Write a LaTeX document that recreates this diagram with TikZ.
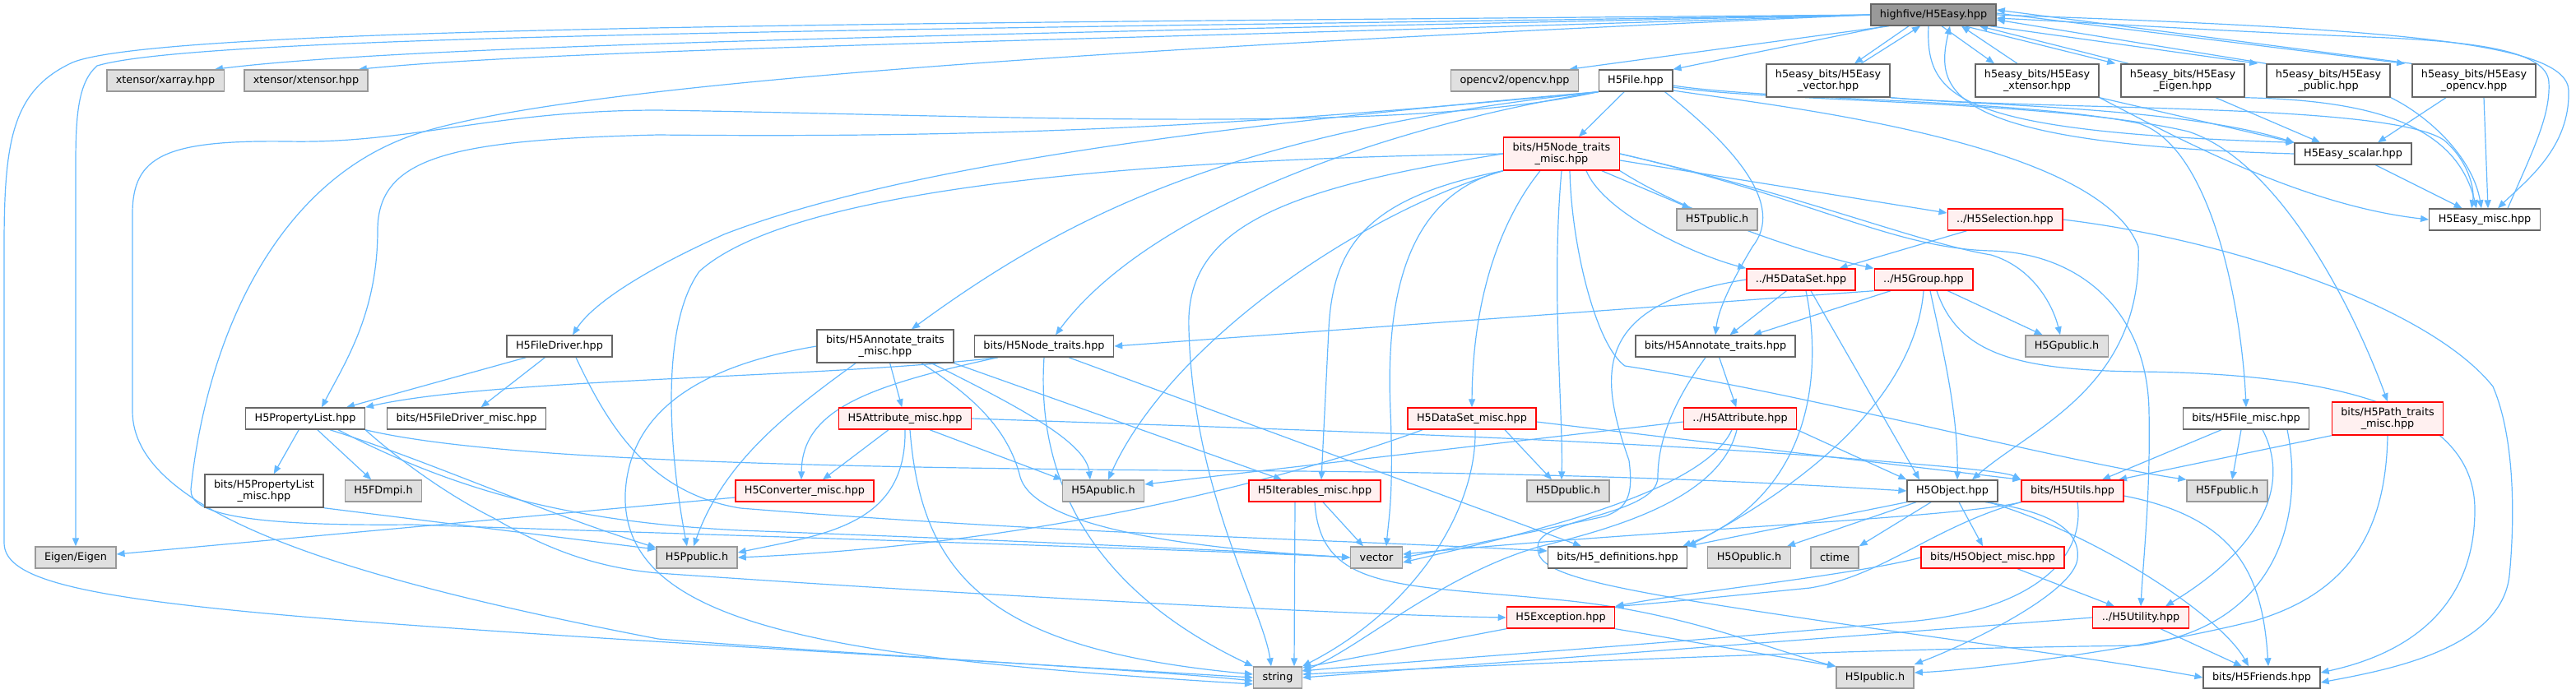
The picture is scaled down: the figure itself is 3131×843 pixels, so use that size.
\documentclass[tikz,border=0pt]{standalone}
\usepackage{fontspec}
\setmainfont{DejaVu Sans}
\usepackage{xcolor}
\usepackage{tikz}
\usetikzlibrary{arrows.meta, backgrounds}

\definecolor{edgeblue}{HTML}{63B8FF}
\definecolor{rootgray}{HTML}{999999}
\definecolor{sysgray}{HTML}{E0E0E0}
\definecolor{misspink}{HTML}{FFF0F0}

\begin{document}
\begin{tikzpicture}[
      x=0.5pt, y=-0.5pt,
      font=\fontsize{6.4}{7.2}\selectfont,
      hfile/.style={draw=black!60, fill=white, line width=0.7pt,
                    inner xsep=5.5pt, inner ysep=0pt, minimum height=13pt,
                    align=center},
      twoline/.style={minimum height=20pt},
      root/.style={hfile, fill=rootgray},
      sys/.style={hfile, draw=black!40, fill=sysgray},
      miss/.style={hfile, draw=red, fill=misspink},
      arr/.style={-{Triangle[length=5pt, width=4pt]}, edgeblue, line width=0.6pt},
  ]
  \useasboundingbox (0,0) rectangle (3131,843);

  %% the header and its direct includes
  \node[root] (easy) at (2350,18) {highfive/H5Easy.hpp};
  \node[sys]  (xarray)  at (201,98)  {xtensor/xarray.hpp};
  \node[sys]  (xtensor) at (372,98)  {xtensor/xtensor.hpp};
  \node[sys]  (opencv)  at (1841,98) {opencv2/opencv.hpp};
  \node[hfile] (h5file) at (1988,98) {H5File.hpp};
  \node[hfile, twoline] (vecE) at (2222,98) {h5easy\_bits/H5Easy\\\_vector.hpp};
  \node[hfile, twoline] (xtE)  at (2476,98) {h5easy\_bits/H5Easy\\\_xtensor.hpp};
  \node[hfile, twoline] (eigE) at (2653,98) {h5easy\_bits/H5Easy\\\_Eigen.hpp};
  \node[hfile, twoline] (pubE) at (2830,98) {h5easy\_bits/H5Easy\\\_public.hpp};
  \node[hfile, twoline] (cvE)  at (3007,98) {h5easy\_bits/H5Easy\\\_opencv.hpp};

  %% second and third rank
  \node[miss, twoline] (nodemisc) at (1898,187) {bits/H5Node\_traits\\\_misc.hpp};
  \node[hfile] (scalar)    at (2860,187) {H5Easy\_scalar.hpp};
  \node[sys]   (tpub)      at (2087,267) {H5Tpublic.h};
  \node[miss]  (selection) at (2437,267) {../H5Selection.hpp};
  \node[hfile] (easymisc)  at (3020,267) {H5Easy\_misc.hpp};
  \node[miss]  (dataset)   at (2189,340) {../H5DataSet.hpp};
  \node[miss]  (group)     at (2338,340) {../H5Group.hpp};

  %% traits rank
  \node[hfile] (filedriver) at (680,421) {H5FileDriver.hpp};
  \node[hfile, twoline] (annmisc) at (1076,421) {bits/H5Annotate\_traits\\\_misc.hpp};
  \node[hfile] (nodetraits) at (1269,421) {bits/H5Node\_traits.hpp};
  \node[hfile] (anntraits)  at (2085,421) {bits/H5Annotate\_traits.hpp};
  \node[sys]   (gpub)       at (2512,421) {H5Gpublic.h};

  \node[hfile] (proplist)  at (371,509)  {H5PropertyList.hpp};
  \node[hfile] (fdmisc)    at (567,509)  {bits/H5FileDriver\_misc.hpp};
  \node[miss]  (attrmisc)  at (1100,509) {H5Attribute\_misc.hpp};
  \node[miss]  (dsmisc)    at (1789,509) {H5DataSet\_misc.hpp};
  \node[miss]  (attribute) at (2115,509) {../H5Attribute.hpp};
  \node[hfile] (filemisc)  at (2730,509) {bits/H5File\_misc.hpp};
  \node[miss, twoline] (pathmisc) at (2902,509) {bits/H5Path\_traits\\\_misc.hpp};

  \node[hfile, twoline] (plmisc) at (321,597) {bits/H5PropertyList\\\_misc.hpp};
  \node[sys]   (fdmpi)    at (466,597)  {H5FDmpi.h};
  \node[miss]  (convmisc) at (978,597)  {H5Converter\_misc.hpp};
  \node[sys]   (apub)     at (1341,597) {H5Apublic.h};
  \node[miss]  (itermisc) at (1598,597) {H5Iterables\_misc.hpp};
  \node[sys]   (dpub)     at (1906,597) {H5Dpublic.h};
  \node[hfile] (object)   at (2373,597) {H5Object.hpp};
  \node[miss]  (utils)    at (2519,597) {bits/H5Utils.hpp};
  \node[sys]   (fpub)     at (2707,597) {H5Fpublic.h};

  \node[sys]   (eigen)   at (92,678)   {Eigen/Eigen};
  \node[sys]   (ppub)    at (847,678)  {H5Ppublic.h};
  \node[sys]   (vector)  at (1673,678) {vector};
  \node[hfile] (defs)    at (1966,678) {bits/H5\_definitions.hpp};
  \node[sys]   (opub)    at (2126,678) {H5Opublic.h};
  \node[sys]   (ctime)   at (2230,678) {ctime};
  \node[miss]  (objmisc) at (2422,678) {bits/H5Object\_misc.hpp};

  \node[miss]  (exception) at (1897,751) {H5Exception.hpp};
  \node[miss]  (utility)   at (2602,751) {../H5Utility.hpp};

  \node[sys]   (string)  at (1553,824) {string};
  \node[sys]   (ipub)    at (2279,824) {H5Ipublic.h};
  \node[hfile] (friends) at (2749,824) {bits/H5Friends.hpp};

  \begin{scope}[on background layer]
  %% H5Easy.hpp
  \draw[arr] (easy.west) .. controls (1200,28) and (200,30) .. (88,76)
             .. controls (15,110) and (5,170) .. (5,300) -- (5,660)
             .. controls (5,740) and (300,750) .. (string.west);
  \draw[arr] (easy.west) .. controls (1200,36) and (250,40) .. (118,80)
             .. controls (95,100) and (92,140) .. (92,200) -- (eigen.north);
  \draw[arr] (easy.west) .. controls (1300,40) and (520,52) .. ([xshift=-6pt]xarray.north east);
  \draw[arr] (easy.west) .. controls (1400,48) and (700,58) .. ([xshift=-6pt]xtensor.north east);
  \draw[arr] (easy.west) .. controls (1500,52) and (700,95) .. (500,165)
             .. controls (330,225) and (250,420) .. (232,595)
             .. controls (230,625) and (300,640) .. (500,638)
             .. controls (1000,655) and (1500,670) .. (vector.west);
  \draw[arr] ([xshift=-27pt]easy.south) -- ([xshift=-6pt]opencv.north east);
  \draw[arr] ([xshift=-29pt]easy.south) -- (h5file.north east);
  \draw[arr] ([xshift=-15pt]easy.south) -- ([xshift=16pt]vecE.north);
  \draw[arr] ([xshift=20pt]vecE.north) -- ([xshift=-8pt]easy.south);
  \draw[arr] ([xshift=5pt]easy.south) -- ([xshift=-26pt]xtE.north);
  \draw[arr] ([xshift=-12pt]xtE.north) -- ([xshift=17pt]easy.south);
  \draw[arr] ([xshift=19pt]easy.south) -- ([xshift=-3pt]eigE.north west);
  \draw[arr] ([xshift=5pt]eigE.north west) -- ([xshift=28pt]easy.south);
  \draw[arr] ([xshift=-4pt]easy.south east) -- ([xshift=-5pt]pubE.north west);
  \draw[arr] (pubE.north west) -- ([yshift=-3pt]easy.east);
  \draw[arr] ([yshift=1pt]easy.east) -- ([xshift=-4pt]cvE.north west);
  \draw[arr] (cvE.north west) -- ([yshift=3pt]easy.east);
  \draw[arr] ([xshift=-3pt]easy.south) .. controls (2340,120) and (2380,160) .. (scalar.north west);
  \draw[arr] (scalar.west) .. controls (2360,175) and (2352,110) .. ([xshift=10pt]easy.south);
  \draw[arr] (easy.east) .. controls (2900,35) and (3120,50) .. (3122,110)
             .. controls (3124,180) and (3070,220) .. ([xshift=8pt]easymisc.north);
  \draw[arr] ([xshift=14pt]easymisc.north) .. controls (3080,180) and (3100,140) .. (3098,100)
             .. controls (3096,60) and (3000,50) .. (2880,45)
             .. controls (2700,38) and (2550,28) .. ([yshift=-2pt]easy.east);

  %% h5easy_bits
  \draw[arr] (vecE.south east) .. controls (2400,128) and (2650,130) .. (scalar.north west);
  \draw[arr] (vecE.south east) .. controls (2500,135) and (2900,125) .. (2970,170)
             .. controls (3000,195) and (3008,230) .. ([xshift=-8pt]easymisc.north);
  \draw[arr] (xtE.south east) -- (scalar.north west);
  \draw[arr] (xtE.south east) .. controls (2650,170) and (2800,250) .. (easymisc.west);
  \draw[arr] ([xshift=20pt]eigE.south) -- ([xshift=-20pt]scalar.north);
  \draw[arr] (eigE.south east) .. controls (2880,122) and (2985,150) .. ([xshift=-5pt]easymisc.north);
  \draw[arr] (pubE.south east) .. controls (2950,140) and (3005,190) .. ([xshift=-2pt]easymisc.north);
  \draw[arr] ([xshift=-17pt]cvE.south) -- ([xshift=15pt]scalar.north);
  \draw[arr] ([xshift=6pt]cvE.south) -- ([xshift=2pt]easymisc.north);
  \draw[arr] (scalar) -- (easymisc);

  %% H5File.hpp
  \draw[arr] (h5file) -- (nodemisc);
  \draw[arr] (h5file.south west) .. controls (1500,150) and (1100,200) .. (880,285)
             .. controls (780,330) and (720,370) .. ([xshift=8pt]filedriver.north);
  \draw[arr] (h5file.south west) .. controls (1500,155) and (1200,168) .. (800,164)
             .. controls (550,170) and (459,190) .. (459,280)
             .. controls (459,380) and (420,440) .. ([xshift=10pt]proplist.north);
  \draw[arr] (h5file.south west) .. controls (1700,165) and (1200,140) .. (800,134)
             .. controls (600,134) and (500,175) .. (350,172)
             .. controls (200,170) and (161,190) .. (161,260) -- (161,500)
             .. controls (161,620) and (400,700) .. (800,777)
             .. controls (1100,800) and (1400,815) .. ([yshift=-2pt]string.west);
  \draw[arr] (h5file.south west) .. controls (1500,160) and (1300,260) .. ([xshift=16pt]annmisc.north);
  \draw[arr] (h5file.south west) .. controls (1700,150) and (1400,250) .. ([xshift=7pt]nodetraits.north);
  \draw[arr] ([xshift=-5pt]h5file.south east) .. controls (2110,180) and (2170,250) .. (2130,300)
             .. controls (2100,350) and (2088,380) .. (anntraits.north);
  \draw[arr] ([yshift=-6pt]h5file.east) .. controls (2150,128) and (2550,170) .. (2599,300)
             .. controls (2605,470) and (2470,520) .. ([xshift=12pt]object.north);
  \draw[arr] ([yshift=-3pt]h5file.east) .. controls (2150,122) and (2450,120) .. (2600,150)
             .. controls (2690,180) and (2725,380) .. (filemisc.north);
  \draw[arr] ([yshift=-4pt]h5file.east) .. controls (2150,124) and (2500,122) .. (2660,160)
             .. controls (2780,200) and (2870,400) .. (pathmisc.north);

  %% H5FileDriver.hpp and H5PropertyList.hpp
  \draw[arr] ([xshift=12pt]filedriver.south west) -- ([xshift=25pt]proplist.north);
  \draw[arr] (filedriver) -- (fdmisc);
  \draw[arr] ([xshift=10pt]filedriver.south) .. controls (740,520) and (790,600) .. (900,618)
             .. controls (1300,650) and (1600,655) .. ([yshift=4pt]defs.west);
  \draw[arr] (proplist) -- (plmisc);
  \draw[arr] (proplist) -- (fdmpi);
  \draw[arr] ([xshift=15pt]proplist.south) .. controls (520,560) and (650,620) .. ([yshift=6pt]ppub.west);
  \draw[arr] ([xshift=20pt]proplist.south) .. controls (560,600) and (700,635) .. (900,645)
             .. controls (1300,660) and (1550,672) .. (vector.west);
  \draw[arr] (proplist.south east) .. controls (480,555) and (540,600) .. (600,630)
             .. controls (660,665) and (720,690) .. (800,697)
             .. controls (1200,725) and (1650,748) .. (exception.west);
  \draw[arr] (proplist.south east) .. controls (600,560) and (1000,570) .. (1580,573)
             .. controls (2000,577) and (2200,590) .. (object.west);
  \draw[arr] (plmisc.south east) -- ([yshift=5pt]ppub.west);

  %% bits/H5Annotate_traits_misc.hpp
  \draw[arr] (annmisc.west) .. controls (850,445) and (765,500) .. (760,600)
             .. controls (755,760) and (1000,800) .. ([yshift=-4pt]string.west);
  \draw[arr] ([xshift=-18pt]annmisc.south) .. controls (960,500) and (880,560) .. ([xshift=-2pt]ppub.north);
  \draw[arr] (annmisc) -- (attrmisc);
  \draw[arr] ([xshift=22pt]annmisc.south) .. controls (1180,480) and (1225,520) .. (1240,580)
             .. controls (1260,650) and (1500,670) .. (vector.west);
  \draw[arr] ([xshift=28pt]annmisc.south) .. controls (1250,500) and (1320,540) .. ([xshift=-8pt]apub.north);
  \draw[arr] (annmisc.south east) -- ([xshift=-20pt]itermisc.north);

  %% bits/H5Node_traits.hpp
  \draw[arr] ([xshift=-28pt]nodetraits.south) .. controls (1000,460) and (600,460) .. (proplist.north east);
  \draw[arr] ([xshift=-28pt]nodetraits.south) .. controls (1050,470) and (975,500) .. ([xshift=-2pt]convmisc.north);
  \draw[arr] (nodetraits.south) .. controls (1262,540) and (1290,700) .. (string.north west);
  \draw[arr] ([xshift=15pt]nodetraits.south) -- ([xshift=-22pt]defs.north);

  %% bits/H5Node_traits_misc.hpp
  \draw[arr] (nodemisc) -- (tpub);
  \draw[arr] ([yshift=-4pt]nodemisc.east) -- ([yshift=4pt]selection.west);
  \draw[arr] ([xshift=15pt]nodemisc.south) .. controls (1950,260) and (2060,310) .. (dataset.north west);
  \draw[arr] (nodemisc.south east) .. controls (2050,260) and (2200,310) .. (group.north west);
  \draw[arr] (nodemisc.east) .. controls (2200,240) and (2330,295) .. (2420,310)
             .. controls (2470,325) and (2495,370) .. ([xshift=-4pt]gpub.north);
  \draw[arr] (nodemisc.east) .. controls (2200,240) and (2300,302) .. (2420,305)
             .. controls (2530,308) and (2610,380) .. (2612,500)
             .. controls (2614,600) and (2605,680) .. (utility.north);
  \draw[arr] ([xshift=5pt]nodemisc.south) .. controls (1910,300) and (1940,420) .. (1975,445)
             .. controls (2200,480) and (2500,560) .. (fpub.north west);
  \draw[arr] ([xshift=-13pt]nodemisc.south) .. controls (1830,260) and (1790,350) .. (dsmisc.north);
  \draw[arr] (nodemisc.south) .. controls (1885,350) and (1900,500) .. ([xshift=-4pt]dpub.north);
  \draw[arr] (nodemisc.south west) .. controls (1650,260) and (1420,420) .. ([xshift=3pt]apub.north);
  \draw[arr] (nodemisc.west) .. controls (1300,195) and (950,240) .. (850,330)
             .. controls (800,400) and (815,560) .. ([xshift=-6pt]ppub.north);
  \draw[arr] (nodemisc.south west) .. controls (1700,240) and (1685,380) .. (1690,500)
             .. controls (1694,600) and (1688,630) .. ([xshift=6pt]vector.north);
  \draw[arr] (nodemisc.west) .. controls (1550,230) and (1440,280) .. (1445,400)
             .. controls (1450,600) and (1535,740) .. ([xshift=-4pt]string.north);
  \draw[arr] (nodemisc.south west) .. controls (1660,240) and (1620,300) .. (1615,400)
             -- ([xshift=4pt]itermisc.north);

  %% ../H5DataSet.hpp, ../H5Group.hpp, ../H5Selection.hpp
  \draw[arr] (dataset.west) .. controls (1930,370) and (1945,460) .. (1980,560)
             .. controls (1985,600) and (1980,618) .. (1950,628)
             .. controls (1850,650) and (1760,668) .. (vector.east);
  \draw[arr] (dataset) -- (anntraits);
  \draw[arr] ([xshift=3pt]dataset.south) .. controls (2215,450) and (2205,600) .. ([xshift=-3pt]defs.north east);
  \draw[arr] ([xshift=6pt]dataset.south) -- ([xshift=-20pt]object.north);
  \draw[arr] (group.south west) -- (nodetraits.east);
  \draw[arr] ([xshift=-20pt]group.south) -- ([xshift=23pt]anntraits.north);
  \draw[arr] (group.south) .. controls (2330,450) and (2250,560) .. (defs.north east);
  \draw[arr] ([xshift=4pt]group.south) .. controls (2360,420) and (2380,500) .. ([xshift=3pt]object.north);
  \draw[arr] (group) -- (gpub);
  \draw[arr] ([xshift=8pt]group.south) .. controls (2380,430) and (2450,450) .. (2600,452)
             .. controls (2900,455) and (3008,520) .. (3008,620)
             .. controls (3008,720) and (2950,790) .. ([yshift=3pt]friends.east);
  \draw[arr] (selection) -- (dataset);
  \draw[arr] (selection.east) .. controls (2700,290) and (2950,370) .. (3030,470)
             .. controls (3060,540) and (3055,650) .. (3050,700)
             .. controls (3040,790) and (2900,815) .. ([yshift=-3pt]friends.east);

  %% bits/H5Annotate_traits.hpp, ../H5Attribute.hpp
  \draw[arr] (anntraits) -- (attribute);
  \draw[arr] ([xshift=-6pt]anntraits.south) .. controls (2040,480) and (2015,530) .. (2015,580)
             .. controls (2015,625) and (1880,630) .. (1870,660)
             .. controls (1862,690) and (1900,705) .. (2070,733)
             .. controls (2300,770) and (2550,800) .. (friends.west);
  \draw[arr] ([yshift=-2pt]attribute.west) -- ([yshift=4pt]apub.east);
  \draw[arr] ([xshift=-5pt]attribute.south) .. controls (2070,600) and (1850,650) .. ([yshift=-3pt]vector.east);
  \draw[arr] ([xshift=-2pt]attribute.south) .. controls (2090,610) and (1950,645) .. (1870,665)
             .. controls (1750,700) and (1650,790) .. ([yshift=4pt]string.east);
  \draw[arr] (attribute.south east) -- (object.north west);

  %% H5Attribute_misc.hpp, H5DataSet_misc.hpp, H5Iterables_misc.hpp
  \draw[arr] ([xshift=-10pt]attrmisc.south) -- ([xshift=11pt]convmisc.north);
  \draw[arr] (attrmisc.south) .. controls (1102,640) and (1000,650) .. ([yshift=3pt]ppub.east);
  \draw[arr] ([xshift=3pt]attrmisc.south) .. controls (1120,700) and (1200,790) .. ([yshift=2pt]string.west);
  \draw[arr] ([xshift=15pt]attrmisc.south) -- (apub.north west);
  \draw[arr] (attrmisc.east) .. controls (1500,520) and (2000,535) .. (2300,562)
             .. controls (2400,570) and (2440,575) .. (utils.north west);
  \draw[arr] ([xshift=-30pt]dsmisc.south) .. controls (1600,570) and (1300,660) .. (ppub.east);
  \draw[arr] ([xshift=2pt]dsmisc.south) .. controls (1795,620) and (1720,740) .. (string.north east);
  \draw[arr] ([xshift=20pt]dsmisc.south) -- ([xshift=-10pt]dpub.north);
  \draw[arr] ([yshift=-2pt]dsmisc.east) -- (utils.north west);
  \draw[arr] ([xshift=-12pt]itermisc.south) -- ([xshift=10pt]string.north);
  \draw[arr] ([xshift=5pt]itermisc.south) -- ([xshift=-8pt]vector.north);
  \draw[arr] (itermisc.south) .. controls (1605,720) and (1700,710) .. (1900,730)
             .. controls (2050,745) and (2150,790) .. (ipub.north west);
  \draw[arr] ([yshift=-4pt]convmisc.west) -- ([yshift=2pt]eigen.east);

  %% H5Object.hpp and below
  \draw[arr] (object.south west) -- (defs.north east);
  \draw[arr] ([xshift=-22pt]object.south) -- ([xshift=23pt]opub.north);
  \draw[arr] ([xshift=-13pt]object.south) -- (ctime.north east);
  \draw[arr] ([xshift=4pt]object.south) -- ([xshift=-6pt]objmisc.north);
  \draw[arr] ([xshift=20pt]object.south) .. controls (2480,620) and (2530,640) .. (2525,680)
             .. controls (2520,720) and (2400,780) .. ([yshift=8pt]ipub.east);
  \draw[arr] ([xshift=22pt]object.south) .. controls (2550,650) and (2700,750) .. ([xshift=-8pt]friends.north);
  \draw[arr] (objmisc.west) .. controls (2250,700) and (2050,720) .. (exception.north east);
  \draw[arr] ([xshift=15pt]objmisc.south) -- ([xshift=-16pt]utility.north);
  \draw[arr] (utils.south west) .. controls (2350,640) and (2290,700) .. (2200,715)
             .. controls (2100,725) and (2000,735) .. (exception.north east);
  \draw[arr] (utils.south west) .. controls (2380,630) and (2000,645) .. ([yshift=2pt]vector.east);
  \draw[arr] ([xshift=3pt]utils.south) .. controls (2535,680) and (2470,740) .. (2330,755)
             .. controls (2000,785) and (1700,805) .. ([yshift=4pt]string.east);
  \draw[arr] ([yshift=-3pt]utils.east) .. controls (2720,630) and (2750,700) .. ([xshift=4pt]friends.north);

  %% bits/H5File_misc.hpp, bits/H5Path_traits_misc.hpp
  \draw[arr] ([xshift=-3pt]filemisc.south) -- ([xshift=3pt]fpub.north);
  \draw[arr] ([xshift=-15pt]filemisc.south) -- ([xshift=18pt]utils.north);
  \draw[arr] ([xshift=10pt]filemisc.south) .. controls (2775,570) and (2775,650) .. ([xshift=15pt]utility.north);
  \draw[arr] ([xshift=25pt]filemisc.south) .. controls (2800,620) and (2775,760) .. (2600,785)
             .. controls (2200,790) and (1800,810) .. ([yshift=2pt]string.east);
  \draw[arr] (pathmisc.south west) -- ([xshift=28pt]utils.north);
  \draw[arr] (pathmisc.south) .. controls (2900,640) and (2860,720) .. (2740,755)
             .. controls (2600,790) and (2400,815) .. ([yshift=3pt]ipub.east);

  %% ../H5Utility.hpp, H5Exception.hpp
  \draw[arr] (utility.west) .. controls (2300,770) and (1900,800) .. (string.east);
  \draw[arr] ([xshift=12pt]utility.south) -- ([xshift=-12pt]friends.north);
  \draw[arr] (exception.south west) -- ([yshift=6pt]string.east);
  \draw[arr] (exception.south east) -- (ipub.north west);
  \end{scope}
\end{tikzpicture}
\end{document}
